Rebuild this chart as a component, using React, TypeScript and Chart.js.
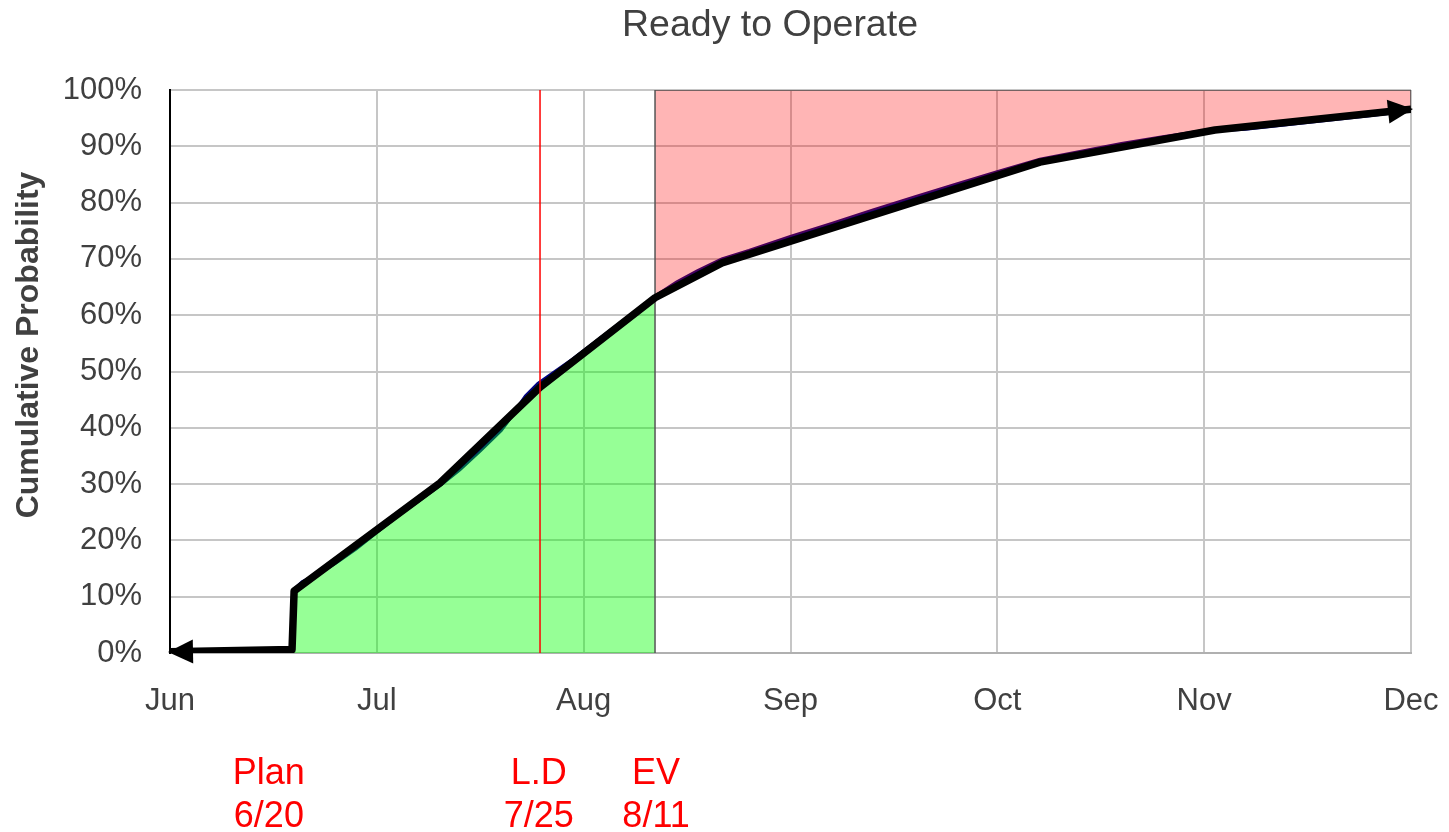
import React, { useEffect, useRef } from "react";
import { Chart, registerables } from "chart.js";

Chart.register(...registerables);

const TITLE = "Ready to Operate";
const Y_TITLE = "Cumulative Probability";
const MONTH_LABELS = ["Jun", "Jul", "Aug", "Sep", "Oct", "Nov", "Dec"];

// Piecewise trend line (x = months after Jun 1, y = cumulative %)
const TREND_X = [0, 0.59, 0.6, 1.305, 1.789, 2.345, 2.669, 4.206, 5.052, 6.0];
const TREND_Y = [0.2, 0.6, 11.0, 30.2, 47.2, 63.1, 69.3, 87.2, 92.9, 96.6];

// Underlying simulated S-curve
const CURVE_X = [
  0.6, 0.64, 0.7, 0.8, 0.9, 1.0, 1.1, 1.2, 1.305, 1.4, 1.5, 1.6, 1.68, 1.72, 1.78,
  1.85, 1.95, 2.05, 2.15, 2.25, 2.345, 2.45, 2.55, 2.669, 2.8, 3.0, 3.2, 3.4, 3.6,
  3.8, 4.0, 4.206, 4.4, 4.6, 4.8, 5.0, 5.2, 5.4, 5.6, 5.8, 6.0,
];
const CURVE_Y = [
  11.2, 12.6, 13.7, 16.0, 18.6, 21.5, 24.4, 27.0, 29.8, 32.6, 36.0, 39.6, 43.5, 45.6, 47.8,
  49.6, 52.2, 55.0, 57.8, 60.6, 63.3, 65.8, 67.8, 69.9, 71.4, 73.9, 76.2, 78.6, 80.9,
  83.2, 85.4, 87.6, 89.0, 90.4, 91.6, 92.7, 93.1, 93.9, 94.7, 95.5, 96.4,
];

const EV_X = 2.345; // 8/11
const LD_X = 1.789; // 7/25
const MARKER_NAMES = ["Plan", "L.D", "EV"];
const MARKER_DATES = ["6/20", "7/25", "8/11"];
const MARKER_LABEL_X = [0.478, 1.783, 2.35];

const FONT = "'Liberation Sans', Arial, sans-serif";
const TEXT = "#404040";

const curvePts = CURVE_X.map((x, i) => ({ x, y: CURVE_Y[i] }));
const trendPts = TREND_X.map((x, i) => ({ x, y: TREND_Y[i] }));
const greenPts = curvePts.filter((p) => p.x <= EV_X);
const redPts = curvePts.filter((p) => p.x >= EV_X);
const lastCurve = curvePts[curvePts.length - 1];
const borderPts = [
  { x: EV_X, y: 0 },
  { x: EV_X, y: 100 },
  { x: lastCurve.x, y: 100 },
  { x: lastCurve.x, y: lastCurve.y },
];
const ldPts = [
  { x: LD_X, y: 0 },
  { x: LD_X, y: 100 },
];

const TREND_INDEX = 4;

const arrowPlugin = {
  id: "arrowHeads",
  afterDatasetDraw(chart: any, args: any) {
    if (args.index !== TREND_INDEX) return;
    const pts = args.meta.data;
    const n = pts.length;
    const ctx = chart.ctx;
    const draw = (tip: any, from: any) => {
      const ang = Math.atan2(tip.y - from.y, tip.x - from.x);
      ctx.save();
      ctx.translate(tip.x, tip.y);
      ctx.rotate(ang);
      ctx.beginPath();
      ctx.moveTo(2, 0);
      ctx.lineTo(-23, -12);
      ctx.lineTo(-23, 12);
      ctx.closePath();
      ctx.fillStyle = "#000";
      ctx.fill();
      ctx.restore();
    };
    draw(pts[0], pts[1]);
    draw(pts[n - 1], pts[n - 2]);
  },
};

const textPlugin = {
  id: "texts",
  afterDraw(chart: any) {
    const ctx = chart.ctx;
    const xs = chart.scales.x;
    ctx.save();
    ctx.font = `37.5px ${FONT}`;
    ctx.fillStyle = TEXT;
    ctx.textAlign = "center";
    ctx.textBaseline = "alphabetic";
    ctx.fillText(TITLE, 770, 36);
    ctx.save();
    ctx.translate(38, 345);
    ctx.rotate(-Math.PI / 2);
    ctx.font = `bold 32px ${FONT}`;
    ctx.fillText(Y_TITLE, 0, 0);
    ctx.restore();
    ctx.font = `36px ${FONT}`;
    ctx.fillStyle = "#ff0000";
    MARKER_NAMES.forEach((name, i) => {
      const px = xs.getPixelForValue(MARKER_LABEL_X[i]);
      ctx.fillText(name, px, 784);
      ctx.fillText(MARKER_DATES[i], px, 827);
    });
    ctx.restore();
  },
};

export default function App() {
  const ref = useRef<HTMLCanvasElement>(null);
  useEffect(() => {
    if (!ref.current) return;
    const chart = new Chart(ref.current, {
      type: "line",
      data: {
        datasets: [
          {
            label: "L.D",
            data: ldPts,
            borderColor: "#ff0000",
            borderWidth: 1.5,
            pointRadius: 0,
            fill: false,
            order: 1,
          },
          {
            label: "green",
            data: greenPts,
            borderColor: "rgba(0,0,0,0)",
            borderWidth: 0,
            backgroundColor: "rgba(0,255,0,0.41)",
            pointRadius: 0,
            fill: "origin",
            order: 5,
          },
          {
            label: "red",
            data: redPts,
            borderColor: "rgba(0,0,0,0)",
            borderWidth: 0,
            backgroundColor: "rgba(255,0,0,0.29)",
            pointRadius: 0,
            fill: { value: 100 },
            order: 5,
          },
          {
            label: "border",
            data: borderPts,
            borderColor: "#555555",
            borderWidth: 1.5,
            pointRadius: 0,
            fill: false,
            order: 4,
          },
          {
            label: "trend",
            data: trendPts,
            borderColor: "#000000",
            borderWidth: 7.5,
            borderJoinStyle: "round",
            pointRadius: 0,
            fill: false,
            order: 2,
          },
          {
            label: "curve",
            data: curvePts,
            borderColor: "#000080",
            borderWidth: 4,
            pointRadius: 0,
            fill: false,
            order: 6,
          },
        ],
      },
      options: {
        animation: false,
        responsive: false,
        layout: { padding: { top: 90, right: 38, left: 0, bottom: 0 } },
        plugins: {
          legend: { display: false },
          tooltip: { enabled: false },
          title: { display: false },
        },
        scales: {
          x: {
            type: "linear",
            min: 0,
            max: 6,
            afterFit: (s: any) => {
              s.height = 179;
            },
            afterBuildTicks: (s: any) => {
              s.ticks = MONTH_LABELS.map((_, i) => ({ value: i }));
            },
            ticks: {
              callback: (v: any) => MONTH_LABELS[Math.round(v)] ?? "",
              font: { family: FONT, size: 31, lineHeight: 3.13 },
              color: TEXT,
              padding: 0,
              maxRotation: 0,
            },
            grid: { color: "#c6c6c6", lineWidth: 2, drawTicks: false },
            border: { color: "#b0b0b0", width: 2 },
          },
          y: {
            min: 0,
            max: 100,
            afterFit: (s: any) => {
              s.width = 170;
            },
            ticks: {
              stepSize: 10,
              callback: (v: any) => `${v}%`,
              font: { family: FONT, size: 31 },
              color: TEXT,
              padding: 28,
            },
            grid: { color: "#c6c6c6", lineWidth: 2, drawTicks: false },
            border: { color: "#000000", width: 2 },
          },
        },
      },
      plugins: [arrowPlugin, textPlugin],
    });
    return () => chart.destroy();
  }, []);
  return (
    <div style={{ position: "fixed", left: 0, top: 0, width: 1449, height: 832, background: "#fff" }}>
      <canvas ref={ref} width={1449} height={832} style={{ display: "block" }} />
    </div>
  );
}
